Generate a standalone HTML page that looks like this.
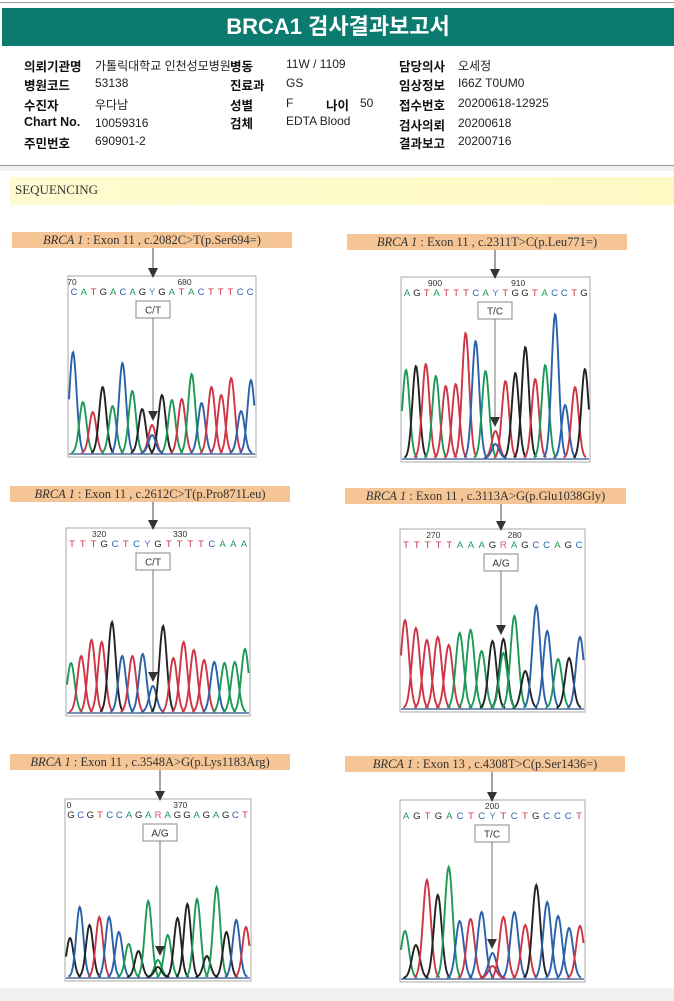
<!DOCTYPE html>
<html><head><meta charset="utf-8">
<style>
html,body{margin:0;padding:0;background:#fff;}
body{width:674px;height:1001px;position:relative;overflow:hidden;font-family:"Liberation Sans","Noto Sans CJK KR",sans-serif;}
.abs{position:absolute;}
#title{left:2px;top:8px;width:672px;height:38px;background:#0b7b70;color:#fff;font-weight:bold;font-size:22px;text-align:center;line-height:38px;}
.lab{font-weight:bold;font-size:12.5px;color:#111;}
.val{font-size:12px;color:#222;}
.plabel{position:absolute;height:16px;background:#f6c595;font-family:"Liberation Serif",serif;font-size:12.5px;color:#333;line-height:16px;text-align:center;white-space:nowrap;}
</style></head><body>
<div class="abs" style="left:0;top:2px;width:674px;height:1px;background:#999"></div>
<div id="title" class="abs">BRCA1 검사결과보고서</div>

<div>
<div class="abs lab" style="left:24px;top:56px">의뢰기관명</div><div class="abs val" style="left:95px;top:57px">가톨릭대학교 인천성모병원</div>
<div class="abs lab" style="left:230px;top:56px">병동</div><div class="abs val" style="left:286px;top:57px">11W / 1109</div>
<div class="abs lab" style="left:399px;top:56px">담당의사</div><div class="abs val" style="left:458px;top:57px">오세정</div>
<div class="abs lab" style="left:24px;top:75px">병원코드</div><div class="abs val" style="left:95px;top:76px">53138</div>
<div class="abs lab" style="left:230px;top:75px">진료과</div><div class="abs val" style="left:286px;top:76px">GS</div>
<div class="abs lab" style="left:399px;top:75px">임상정보</div><div class="abs val" style="left:458px;top:76px">I66Z T0UM0</div>
<div class="abs lab" style="left:24px;top:95px">수진자</div><div class="abs val" style="left:95px;top:96px">우다남</div>
<div class="abs lab" style="left:230px;top:95px">성별</div><div class="abs val" style="left:286px;top:96px">F</div>
<div class="abs lab" style="left:326px;top:95px">나이</div><div class="abs val" style="left:360px;top:96px">50</div>
<div class="abs lab" style="left:399px;top:95px">접수번호</div><div class="abs val" style="left:458px;top:96px">20200618-12925</div>
<div class="abs lab" style="left:24px;top:115px">Chart No.</div><div class="abs val" style="left:95px;top:116px">10059316</div>
<div class="abs lab" style="left:230px;top:113px">검체</div><div class="abs val" style="left:286px;top:114px">EDTA Blood</div>
<div class="abs lab" style="left:399px;top:115px">검사의뢰</div><div class="abs val" style="left:458px;top:116px">20200618</div>
<div class="abs lab" style="left:24px;top:133px">주민번호</div><div class="abs val" style="left:95px;top:134px">690901-2</div>
<div class="abs lab" style="left:399px;top:133px">결과보고</div><div class="abs val" style="left:458px;top:134px">20200716</div>
</div>

<div class="abs" style="left:0;top:165px;width:674px;height:1px;background:#999"></div>
<div class="abs" style="left:0;top:166px;width:674px;height:5px;background:#f0f0f0"></div>
<div class="abs" style="left:10px;top:177px;width:664px;height:28px;background:linear-gradient(90deg,#fffbd0,#fff9c4);font-family:'Liberation Serif',serif;font-size:13px;color:#333;line-height:26px;padding-left:5px;box-sizing:border-box">SEQUENCING</div>
<div class="abs" style="left:0;top:988px;width:674px;height:13px;background:#f0f0f0"></div>

<div class="plabel" style="left:12px;top:232px;width:280px"><i>BRCA 1</i> : Exon 11 , c.2082C&gt;T(p.Ser694=)</div>
<div class="plabel" style="left:347px;top:234px;width:280px"><i>BRCA 1</i> : Exon 11 , c.2311T&gt;C(p.Leu771=)</div>
<div class="plabel" style="left:10px;top:486px;width:280px"><i>BRCA 1</i> : Exon 11 , c.2612C&gt;T(p.Pro871Leu)</div>
<div class="plabel" style="left:345px;top:488px;width:281px"><i>BRCA 1</i> : Exon 11 , c.3113A&gt;G(p.Glu1038Gly)</div>
<div class="plabel" style="left:10px;top:754px;width:280px"><i>BRCA 1</i> : Exon 11 , c.3548A&gt;G(p.Lys1183Arg)</div>
<div class="plabel" style="left:345px;top:756px;width:280px"><i>BRCA 1</i> : Exon 13 , c.4308T&gt;C(p.Ser1436=)</div>

<svg id="chart" class="abs" style="left:0;top:0" width="674" height="1001"></svg>

<script>
// ---- data (peaks: base call, signal height) ----
const panel1Bases = ['C','A','T','G','A','C','A','G','T','G','A','T','A','C','T','T','T','C','C'];
const panel1Heights = [101,51,41,66,47,90,62,44,28,58,53,54,79,50,66,58,75,42,73];
const panel1Seq = 'CATGACAGYGATACTTTCC';
const panel1Ticks = ['70','680'];

const panel2Bases = ['A','G','T','A','T','T','T','C','A','T','T','G','G','T','A','C','C','T','G'];
const panel2Heights = [88,92,94,82,72,74,125,117,87,27,77,85,111,79,93,144,53,71,89];
const panel2Seq = 'AGTATTTCAYTGGTACCTG';
const panel2Ticks = ['900','910'];

const panel3Bases = ['A','T','T','T','G','C','T','C','C','G','T','T','T','T','C','A','A','A'];
const panel3Heights = [49,56,72,70,90,56,56,58,26,86,54,70,62,52,50,49,50,63];
const panel3Seq = 'TTTGCTCYGTTTTCAAA';
const panel3Ticks = ['320','330'];

const panel4Bases = ['T','T','T','T','T','A','A','A','G','G','A','G','C','C','A','G','C'];
const panel4Heights = [88,80,68,71,63,75,78,57,67,69,92,37,102,77,49,50,71];
const panel4Seq = 'TTTTTAAAGRAGCCAGC';
const panel4Ticks = ['270','280'];

const panel5Bases = ['G','C','G','T','C','C','A','G','A','A','A','G','G','A','G','A','G','C','T'];
const panel5Heights = [39,70,52,60,60,45,33,26,76,17,42,59,73,78,21,90,45,57,50];
const panel5Seq = 'GCGTCCAGARAGGAGAGCT';
const panel5Ticks = ['0','370'];

const panel6Bases = ['A','G','T','G','A','C','T','C','C','T','C','T','G','C','C','C','T'];
const panel6Heights = [47,33,98,83,111,57,59,66,25,61,66,53,93,76,62,50,52];
const panel6Seq = 'AGTGACTCYTCTGCCCT';
const panel6Ticks = ['200'];

// heterozygous secondary peaks
const hetIndex = [8,9,8,9,9,8];
const hetBase = ['C','C','T','A','G','T'];
const hetValue = [18,14,0,55,10,12];
const hetCalls = ['C/T','T/C','C/T','A/G','A/G','T/C'];

const colors = {A:'#1d9a58',C:'#2a62aa',G:'#222',T:'#cf3545',R:'#d4587a',Y:'#5a78b8'};
const layouts = [
 {x:68,y:276,w:188,h:181,ax:153,ly:248},
 {x:401,y:277,w:189,h:185,ax:495,ly:250},
 {x:66,y:528,w:184,h:188,ax:153,ly:502},
 {x:400,y:529,w:185,h:183,ax:501,ly:504},
 {x:65,y:799,w:186,h:182,ax:160,ly:770},
 {x:400,y:800,w:185,h:182,ax:492,ly:772}
];
const allBases=[panel1Bases,panel2Bases,panel3Bases,panel4Bases,panel5Bases,panel6Bases];
const allHeights=[panel1Heights,panel2Heights,panel3Heights,panel4Heights,panel5Heights,panel6Heights];
const allSeq=[panel1Seq,panel2Seq,panel3Seq,panel4Seq,panel5Seq,panel6Seq];
const allTicks=[panel1Ticks,panel2Ticks,panel3Ticks,panel4Ticks,panel5Ticks,panel6Ticks];

const NS='http://www.w3.org/2000/svg';
const svg=document.getElementById('chart');
function mk(tag,attrs,parent){const e=document.createElementNS(NS,tag);for(const k in attrs)e.setAttribute(k,attrs[k]);(parent||svg).appendChild(e);return e;}

function peakPath(cx,base,hgt,sig,x0,x1){
  let d='';
  for(let x=Math.max(x0,cx-sig*3.2);x<=Math.min(x1,cx+sig*3.2);x+=0.7){
    const y=base-hgt*Math.exp(-((x-cx)*(x-cx))/(2*sig*sig));
    d+=(d?'L':'M')+x.toFixed(1)+' '+y.toFixed(1);
  }
  return d;
}

layouts.forEach((L,p)=>{
  const g=mk('g',{});
  
  
  const bases=allBases[p], hts=allHeights[p], n=bases.length;
  const base=L.y+L.h-4;
  const xs=i=>L.x+5+i*(L.w-10)/(n-1);
  const ys=v=>base-v;
  const sig=(L.w-10)/(n-1)*0.36;
  const box=mk('rect',{x:L.x,y:L.y,width:L.w,height:L.h,fill:'#fff',stroke:'#aaa','stroke-width':1},g);
  
  
  mk('line',{x1:L.x+1,y1:base+1,x2:L.x+L.w-1,y2:base+1,stroke:'#2b4f8a','stroke-width':1.3},g);
  bases.forEach((b,i)=>{
    const pth=mk('path',{d:peakPath(xs(i),base,base-ys(hts[i]),sig,L.x+1,L.x+L.w-1),fill:'none',stroke:colors[b],'stroke-width':1.9},g);
    
    
  });
  const hv=hetValue[p];
  if(hv>0){
    const hp=mk('path',{d:peakPath(xs(hetIndex[p]),base,hv,sig,L.x+1,L.x+L.w-1),fill:'none',stroke:colors[hetBase[p]],'stroke-width':1.9},g);
    
    
  }
  const seq=allSeq[p];
  const sx=i=>L.x+6+i*(L.w-12)/(seq.length-1);
  for(let i=0;i<seq.length;i++){
    const t=mk('text',{x:sx(i),y:L.y+19,'font-size':9.5,'text-anchor':'middle',fill:colors[seq[i]],'font-family':'Liberation Sans, sans-serif'},g);
    t.textContent=seq[i];
    
    
  }
  const tk=allTicks[p];
  tk.forEach((s,j)=>{
    let tx;
    if(tk.length===1) tx=L.ax;
    else if(s.length<3) tx=j===0?L.x+4:L.ax+8;
    else tx=L.x+(j===0?0.18:0.62)*L.w;
    const t=mk('text',{x:tx,y:L.y+9,'font-size':8.5,'text-anchor':'middle',fill:'#333','font-family':'Liberation Sans, sans-serif'},g);
    t.textContent=s;
    
    
  });
  mk('line',{x1:L.ax,y1:L.ly,x2:L.ax,y2:L.y-6,stroke:'#444','stroke-width':1},g);
  mk('polygon',{points:`${L.ax-5},${L.y-8} ${L.ax+5},${L.y-8} ${L.ax},${L.y+2}`,fill:'#333'},g);
  const cb=mk('rect',{x:L.ax-17,y:L.y+25,width:34,height:17,fill:'#fff',stroke:'#888','stroke-width':1},g);
  
  
  const ct=mk('text',{x:L.ax,y:L.y+37.5,'font-size':10,'text-anchor':'middle',fill:'#333','font-family':'Liberation Sans, sans-serif'},g);
  ct.textContent=hetCalls[p];
  
  
  const top=ys(Math.max(hts[hetIndex[p]],hv))-4;
  mk('line',{x1:L.ax,y1:L.y+42,x2:L.ax,y2:top-8,stroke:'#777','stroke-width':1},g);
  mk('polygon',{points:`${L.ax-5},${top-10} ${L.ax+5},${top-10} ${L.ax},${top}`,fill:'#333'},g);
});
</script>
</body></html>
